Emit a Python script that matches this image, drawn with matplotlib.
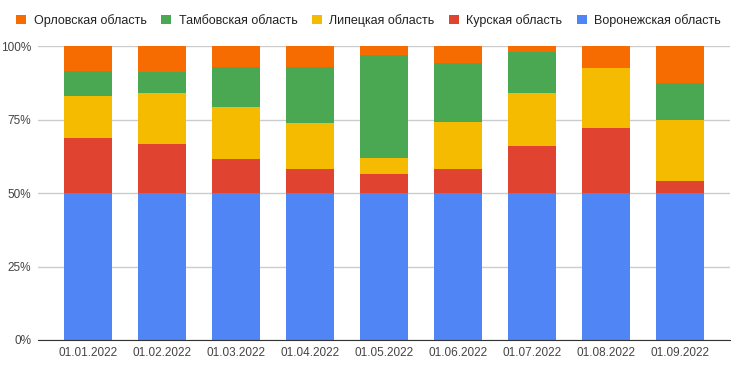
import matplotlib.pyplot as plt
import numpy as np

plt.rcParams['font.family'] = ['Liberation Sans', 'DejaVu Sans']

dates = ['01.01.2022', '01.02.2022', '01.03.2022', '01.04.2022', '01.05.2022',
         '01.06.2022', '01.07.2022', '01.08.2022', '01.09.2022']

# shares in percent
voronezh = [50, 50, 50, 50, 50, 50, 50, 50, 50]
kursk = [18.8, 16.8, 11.7, 8.3, 6.6, 8.3, 16.1, 22.2, 4.2]
lipetsk = [14.3, 17.3, 17.7, 15.6, 5.4, 16.0, 18.0, 20.4, 20.7]
tambov = [8.4, 7.2, 13.6, 19.1, 34.9, 19.9, 14.0, 0.0, 12.6]
orel = [8.5, 8.7, 7.0, 7.0, 3.1, 5.8, 1.9, 7.4, 12.5]

names = ['Воронежская область', 'Курская область', 'Липецкая область',
         'Тамбовская область', 'Орловская область']
colors = ['#5085f6', '#e04430', '#f4bb00', '#4aa852', '#f66c00']

fig = plt.figure(figsize=(7.39, 3.73), dpi=100)
ax = fig.add_axes([38/739, 33/373, 692/739, 294/373])

x = np.arange(len(dates))
series = [voronezh, kursk, lipetsk, tambov, orel]
bottom = np.zeros(len(dates))
bars = []
for vals, name, c in zip(series, names, colors):
    vals = np.array(vals)
    b = ax.bar(x, vals, 0.65, bottom=bottom, color=c, label=name, zorder=3)
    bars.append(b)
    bottom += vals

ax.set_xlim(-0.676, 8.676)
ax.set_ylim(0, 100)
ax.set_yticks([0, 25, 50, 75, 100])
ax.set_yticklabels(['0%', '25%', '50%', '75%', '100%'])
ax.set_xticks(x)
ax.set_xticklabels(dates)
ax.tick_params(length=0, labelsize=8.5, colors='#444444')
ax.tick_params(axis='x', pad=5)
ax.tick_params(axis='y', pad=5)
ax.grid(axis='y', color='#cccccc', linewidth=1, zorder=0)
for s in ['top', 'right', 'left']:
    ax.spines[s].set_visible(False)
ax.spines['bottom'].set_color('#333333')
ax.spines['bottom'].set_zorder(4)

handles = bars[::-1]
labels = names[::-1]
leg = fig.legend(handles, labels, loc='upper left', bbox_to_anchor=(0.007, 0.993),
                 ncol=5, frameon=False, fontsize=9, handlelength=0.8,
                 handleheight=0.8, handletextpad=0.6, columnspacing=1.15,
                 labelcolor='#222222')

fig.savefig('out.png', dpi=100)
